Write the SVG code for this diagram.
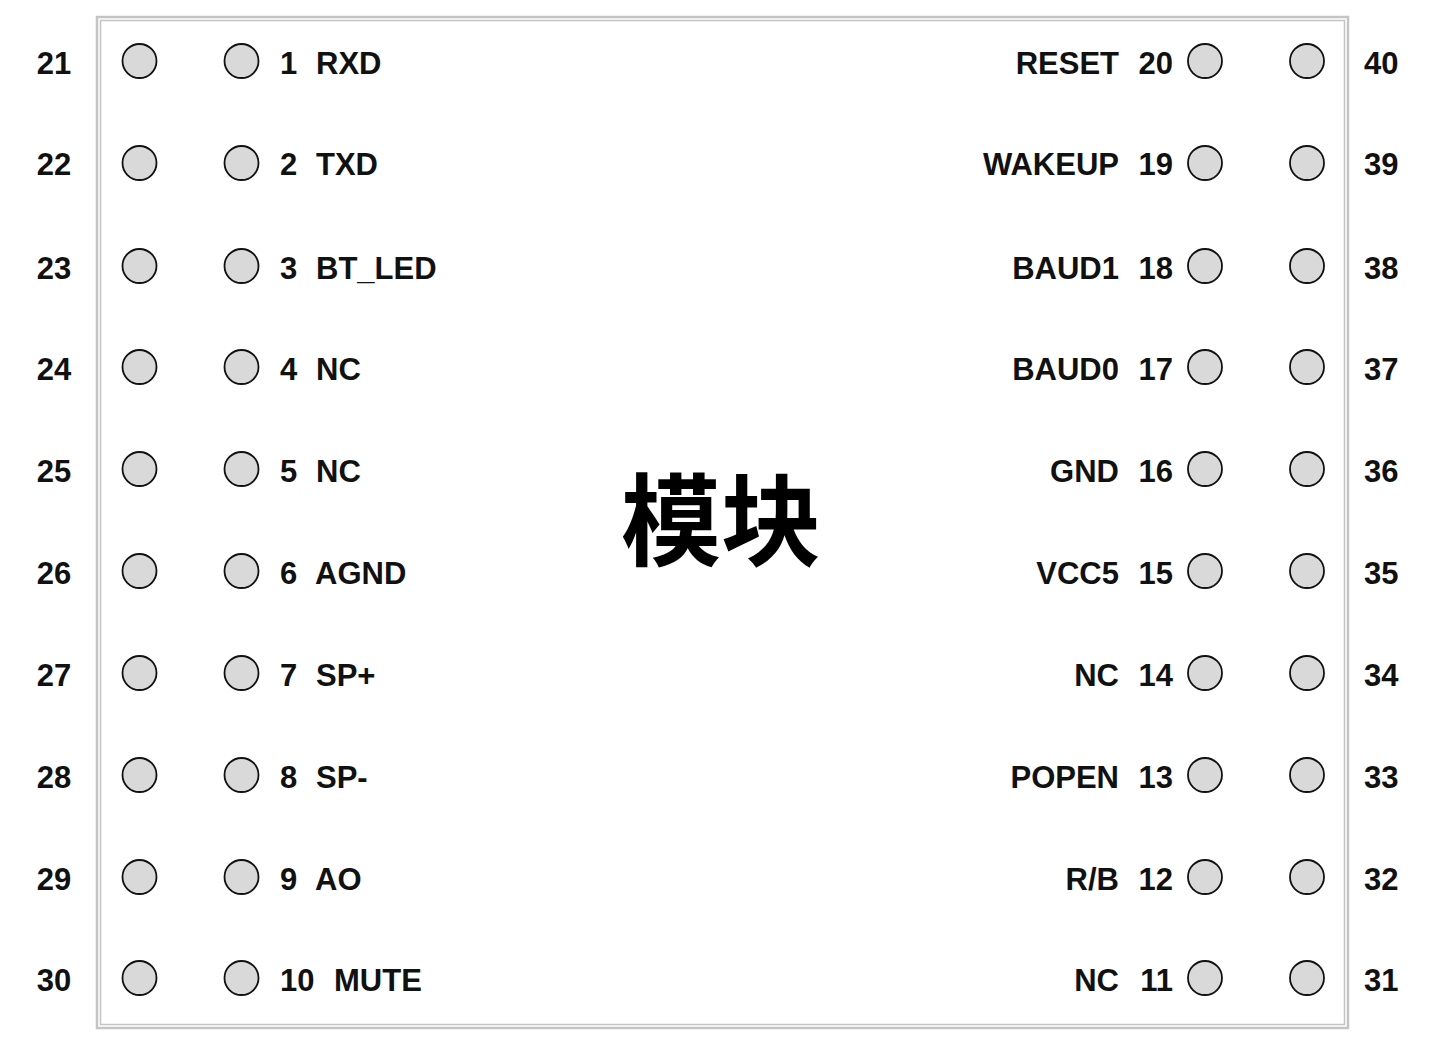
<svg xmlns="http://www.w3.org/2000/svg" width="1434" height="1046" viewBox="0 0 1434 1046">
<style>
.pin{fill:#d9d9d9;stroke:#111;stroke-width:1.8}
.t{font-family:"Liberation Sans",Arial,sans-serif;font-weight:bold;font-size:31px;fill:#111}
.r{text-anchor:end}
.c{text-anchor:middle}
.big{font-family:"Noto Sans CJK SC","Noto Sans",sans-serif;font-weight:bold;font-size:100px;fill:#000;text-anchor:middle}
</style>
<rect width="1434" height="1046" fill="#fff"/>
<g id="module">
<rect x="97" y="17" width="1251" height="1011" fill="none" stroke="#c4c4c4" stroke-width="2.5"/>
<rect x="100.5" y="20.5" width="1244" height="1004" fill="none" stroke="#c4c4c4" stroke-width="1.5"/>
<text class="big" x="721" y="558">模块</text>
</g>
<g id="connectors"></g>
<g id="pins-left">
<g id="row1"><text class="t c" x="54" y="74">21</text><circle class="pin" cx="139.5" cy="61" r="17"/><circle class="pin" cx="241.5" cy="61" r="17"/><text class="t" x="280" y="74">1</text><text class="t" x="316" y="74">RXD</text></g>
<g id="row2"><text class="t c" x="54" y="175">22</text><circle class="pin" cx="139.5" cy="163" r="17"/><circle class="pin" cx="241.5" cy="163" r="17"/><text class="t" x="280" y="175">2</text><text class="t" x="316" y="175">TXD</text></g>
<g id="row3"><text class="t c" x="54" y="279">23</text><circle class="pin" cx="139.5" cy="266" r="17"/><circle class="pin" cx="241.5" cy="266" r="17"/><text class="t" x="280" y="279">3</text><text class="t" x="316" y="279">BT_LED</text></g>
<g id="row4"><text class="t c" x="54" y="380">24</text><circle class="pin" cx="139.5" cy="367" r="17"/><circle class="pin" cx="241.5" cy="367" r="17"/><text class="t" x="280" y="380">4</text><text class="t" x="316" y="380">NC</text></g>
<g id="row5"><text class="t c" x="54" y="482">25</text><circle class="pin" cx="139.5" cy="469" r="17"/><circle class="pin" cx="241.5" cy="469" r="17"/><text class="t" x="280" y="482">5</text><text class="t" x="316" y="482">NC</text></g>
<g id="row6"><text class="t c" x="54" y="584">26</text><circle class="pin" cx="139.5" cy="571" r="17"/><circle class="pin" cx="241.5" cy="571" r="17"/><text class="t" x="280" y="584">6</text><text class="t" x="315" y="584">AGND</text></g>
<g id="row7"><text class="t c" x="54" y="686">27</text><circle class="pin" cx="139.5" cy="673" r="17"/><circle class="pin" cx="241.5" cy="673" r="17"/><text class="t" x="280" y="686">7</text><text class="t" x="316" y="686">SP+</text></g>
<g id="row8"><text class="t c" x="54" y="788">28</text><circle class="pin" cx="139.5" cy="775" r="17"/><circle class="pin" cx="241.5" cy="775" r="17"/><text class="t" x="280" y="788">8</text><text class="t" x="316" y="788">SP-</text></g>
<g id="row9"><text class="t c" x="54" y="890">29</text><circle class="pin" cx="139.5" cy="877" r="17"/><circle class="pin" cx="241.5" cy="877" r="17"/><text class="t" x="280" y="890">9</text><text class="t" x="315" y="890">AO</text></g>
<g id="row10"><text class="t c" x="54" y="991">30</text><circle class="pin" cx="139.5" cy="978" r="17"/><circle class="pin" cx="241.5" cy="978" r="17"/><text class="t" x="280" y="991">10</text><text class="t" x="334" y="991">MUTE</text></g>
</g>
<g id="pins-right">
<g id="row20"><text class="t r" x="1119" y="74">RESET</text><text class="t r" x="1173" y="74">20</text><circle class="pin" cx="1205" cy="61" r="17"/><circle class="pin" cx="1307" cy="61" r="17"/><text class="t" x="1364" y="74">40</text></g>
<g id="row19"><text class="t r" x="1119" y="175">WAKEUP</text><text class="t r" x="1173" y="175">19</text><circle class="pin" cx="1205" cy="163" r="17"/><circle class="pin" cx="1307" cy="163" r="17"/><text class="t" x="1364" y="175">39</text></g>
<g id="row18"><text class="t r" x="1119" y="279">BAUD1</text><text class="t r" x="1173" y="279">18</text><circle class="pin" cx="1205" cy="266" r="17"/><circle class="pin" cx="1307" cy="266" r="17"/><text class="t" x="1364" y="279">38</text></g>
<g id="row17"><text class="t r" x="1119" y="380">BAUD0</text><text class="t r" x="1173" y="380">17</text><circle class="pin" cx="1205" cy="367" r="17"/><circle class="pin" cx="1307" cy="367" r="17"/><text class="t" x="1364" y="380">37</text></g>
<g id="row16"><text class="t r" x="1119" y="482">GND</text><text class="t r" x="1173" y="482">16</text><circle class="pin" cx="1205" cy="469" r="17"/><circle class="pin" cx="1307" cy="469" r="17"/><text class="t" x="1364" y="482">36</text></g>
<g id="row15"><text class="t r" x="1119" y="584">VCC5</text><text class="t r" x="1173" y="584">15</text><circle class="pin" cx="1205" cy="571" r="17"/><circle class="pin" cx="1307" cy="571" r="17"/><text class="t" x="1364" y="584">35</text></g>
<g id="row14"><text class="t r" x="1119" y="686">NC</text><text class="t r" x="1173" y="686">14</text><circle class="pin" cx="1205" cy="673" r="17"/><circle class="pin" cx="1307" cy="673" r="17"/><text class="t" x="1364" y="686">34</text></g>
<g id="row13"><text class="t r" x="1119" y="788">POPEN</text><text class="t r" x="1173" y="788">13</text><circle class="pin" cx="1205" cy="775" r="17"/><circle class="pin" cx="1307" cy="775" r="17"/><text class="t" x="1364" y="788">33</text></g>
<g id="row12"><text class="t r" x="1119" y="890">R/B</text><text class="t r" x="1173" y="890">12</text><circle class="pin" cx="1205" cy="877" r="17"/><circle class="pin" cx="1307" cy="877" r="17"/><text class="t" x="1364" y="890">32</text></g>
<g id="row11"><text class="t r" x="1119" y="991">NC</text><text class="t r" x="1173" y="991">11</text><circle class="pin" cx="1205" cy="978" r="17"/><circle class="pin" cx="1307" cy="978" r="17"/><text class="t" x="1364" y="991">31</text></g>
</g>
</svg>
